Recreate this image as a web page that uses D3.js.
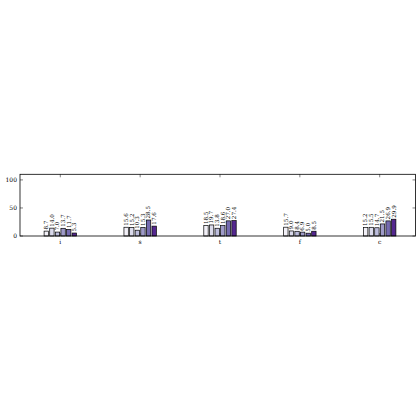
<!DOCTYPE html>
<html><head><meta charset="utf-8">
<script src="https://cdn.jsdelivr.net/npm/d3@7"></script>
<style>body{margin:0;background:#fff}svg{display:block}</style>
</head><body>
<script>
const categories = ["i","s","t","f","c"];
const series = ["s1","s2","s3","s4","s5","s6"];
const s1 = [8.7, 15.6, 18.5, 15.7, 15.2];
const s2 = [14.0, 15.2, 19.7, 9.0, 15.5];
const s3 = [7.0, 10.3, 13.8, 8.4, 14.7];
const s4 = [13.7, 15.3, 18.6, 6.9, 21.5];
const s5 = [11.7, 28.5, 27.0, 5.0, 26.9];
const s6 = [5.3, 17.6, 27.4, 8.5, 29.9];
const yTicks = [0, 50, 100];
const colors = ["#f2f0f7","#dadaeb","#bcbddc","#9e9ac8","#756bb1","#54278f"];
const allSeries = [s1,s2,s3,s4,s5,s6];

const W = 420, H = 420;
const L = 20, R = 415.5, T = 174.3, B = 236;
const svg = d3.select("body").append("svg").attr("width",W).attr("height",H);
const font = "'DejaVu Serif', 'Liberation Serif', serif";

const x = d3.scalePoint().domain(categories).range([60.3, 379.7]);
const y = d3.scaleLinear().domain([0,110]).range([B,T]);
const xs = d3.scaleBand().domain(series).range([-16.2,16.2]).paddingInner(0.22);

const g = svg.append("g");
categories.forEach((c,ci)=>{
  series.forEach((s,si)=>{
    const v = allSeries[si][ci];
    const bx = x(c)+xs(s);
    g.append("rect").attr("x",bx).attr("y",y(v)).attr("width",xs.bandwidth())
      .attr("height",y(0)-y(v)).attr("fill",colors[si]).attr("stroke","#000").attr("stroke-width",0.7);
    const tx = bx + xs.bandwidth()/2 + 1.8, ty = y(v) - 1.5;
    g.append("text").attr("transform",`translate(${tx},${ty}) rotate(-90)`)
      .attr("font-family",font).attr("font-size",5.6).attr("fill","#000")
      .text(v.toFixed(1));
  });
});

// frame
svg.append("rect").attr("x",L).attr("y",T).attr("width",R-L).attr("height",B-T)
  .attr("fill","none").attr("stroke","#000").attr("stroke-width",0.8);

// y ticks
yTicks.forEach(t=>{
  svg.append("line").attr("x1",L).attr("x2",L+3).attr("y1",y(t)).attr("y2",y(t)).attr("stroke","#000").attr("stroke-width",0.5);
  svg.append("line").attr("x1",R).attr("x2",R-3).attr("y1",y(t)).attr("y2",y(t)).attr("stroke","#000").attr("stroke-width",0.5);
  svg.append("text").attr("x",L-3).attr("y",y(t)+2).attr("text-anchor","end")
    .attr("font-family",font).attr("font-size",6).text(t);
});
// x ticks
categories.forEach(c=>{
  svg.append("line").attr("x1",x(c)).attr("x2",x(c)).attr("y1",B).attr("y2",B-3).attr("stroke","#000").attr("stroke-width",0.5);
  svg.append("line").attr("x1",x(c)).attr("x2",x(c)).attr("y1",T).attr("y2",T+3).attr("stroke","#000").attr("stroke-width",0.5);
  svg.append("text").attr("x",x(c)).attr("y",B+8).attr("text-anchor","middle")
    .attr("font-family",font).attr("font-size",6).text(c);
});
</script>
</body></html>
